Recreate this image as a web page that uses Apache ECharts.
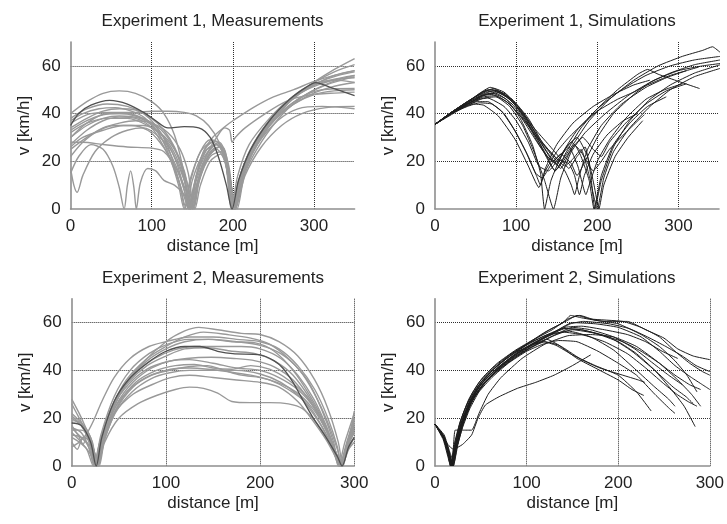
<!DOCTYPE html>
<html>
<head>
<meta charset="utf-8">
<script src="https://cdn.jsdelivr.net/npm/echarts@6/dist/echarts.min.js"></script>
<style>
  html, body { margin: 0; padding: 0; background: #fff; }
  #chart { width: 727px; height: 524px; }
</style>
</head>
<body>
<div id="chart"></div>
<script>
// Panel titles and axis settings
const panelTitles = [
  'Experiment 1, Measurements',
  'Experiment 1, Simulations',
  'Experiment 2, Measurements',
  'Experiment 2, Simulations'
];
const xAxisName = 'distance [m]';
const yAxisName = 'v [km/h]';
const xMaxima = [350, 350, 300, 300];
const yMaximum = 70;
const xTickStep = 100;
const yTickStep = 20;

// Experiment 1: measured speed profiles, [distance m, speed km/h]
const exp1Measured = [
  [[0,40],[20,45],[40,48.5],[60,49.5],[80,48.5],[100,45],[115,40],[128,31],[138,18],[145,5],[148,0],[155,14],[165,25],[178,28.5],[190,22],[198,0],[206,14],[220,27],[245,38],[270,46],[300,52],[325,56],[350,58]],
  [[0,38],[20,42],[45,44],[70,43],[90,40],[105,35],[120,26],[133,12],[143,0],[150,12],[165,24],[180,27],[192,18],[200,0],[210,15],[225,27],[250,39],[275,47],[300,53],[325,57.5],[350,60.5]],
  [[0,33],[20,37],[40,39.5],[60,40],[80,39],[100,36],[115,30],[130,20],[140,8],[145,0],[152,10],[165,22],[180,27],[192,20],[201,0],[212,17],[230,30],[255,41],[280,48],[305,53],[330,56],[350,57.5]],
  [[0,30],[20,35],[40,38],[60,39],[85,38],[100,35],[115,28],[130,18],[145,5],[150,0],[157,10],[170,22],[183,26],[195,15],[203,0],[213,16],[230,29],[255,41],[280,48],[305,52],[330,54.5],[350,55]],
  [[0,27],[20,33],[40,37],[60,38.5],[80,38],[100,34],[115,26],[130,15],[140,5],[146,0],[155,14],[168,25],[180,27],[192,20],[199,0],[208,13],[225,26],[250,37],[275,44],[300,48],[325,49.5],[350,50]],
  [[0,36],[25,40],[50,40.5],[80,40.5],[100,41],[120,41],[140,40.5],[155,39],[170,35],[183,28],[192,18],[199,0],[207,12],[222,25],[245,36],[270,45],[295,51],[320,54],[350,56]],
  [[0,28],[15,28],[40,27],[70,26],[100,25.5],[115,24],[130,17],[140,8],[147,0],[155,12],[170,24],[183,28],[195,18],[202,0],[212,15],[230,27],[255,37],[280,42],[310,43],[350,42]],
  [[0,25],[20,30],[40,34],[60,36],[80,37],[100,36],[120,32],[135,25],[145,15],[152,0],[160,14],[175,25],[187,26],[197,12],[203,0],[215,14],[235,26],[260,35],[285,40],[315,42.5],[350,43]],
  [[0,17],[4,10],[8,7],[15,14],[30,24],[50,30],[70,33],[90,34],[110,30],[125,24],[140,12],[150,0],[158,12],[172,22],[185,24],[196,12],[202,0],[215,16],[235,30],[260,40],[290,47],[320,51],[350,53]],
  [[0,15],[10,22],[25,27],[40,25],[52,18],[60,9],[66,0],[70,10],[74,16],[78,9],[81,0],[86,11],[95,17],[105,16],[115,12],[128,10],[140,6],[148,0],[158,13],[172,24],[185,26],[196,14],[203,0],[214,16],[232,29],[258,40],[285,47],[315,52],[350,55.5]],
  [[0,30],[20,36],[45,40],[70,40],[95,37],[115,32],[130,24],[140,13],[146,0],[154,13],[164,24],[175,30],[190,34.5],[200,37],[225,42.5],[250,47],[275,50],[300,53.5],[325,56],[350,58]],
  [[0,32],[20,36],[45,38],[70,38],[95,35],[115,30],[130,22],[142,10],[148,0],[155,10],[168,23],[180,30],[190,34],[196,33],[199,28],[203,30],[215,34],[240,40],[265,45],[290,47.5],[320,48.5],[350,49]],
  [[0,22],[15,28],[35,33],[55,35],[75,35],[95,33],[110,28],[125,20],[135,10],[141,0],[148,12],[160,24],[175,28],[188,24],[196,8],[200,0],[208,10],[222,22],[245,35],[270,45],[295,52],[320,57.5],[350,63]],
  [[0,26],[15,30],[40,33],[65,35],[90,35],[110,32],[128,25],[140,15],[150,3],[153,0],[160,10],[172,20],[185,23],[195,14],[205,0],[215,15],[235,28],[262,40],[290,48],[320,53],[350,56]],
  [[0,37],[15,40],[35,42],[55,42.5],[75,41],[92,38],[108,32],[122,22],[133,10],[140,0],[147,12],[160,24],[172,29],[185,27],[195,16],[201,0],[210,14],[226,27],[250,39],[275,47.5],[300,52.5],[325,54],[350,53]],
  [[0,34],[20,38],[40,41],[60,42],[80,41.5],[100,38],[115,33],[128,26],[140,16],[147,5],[151,0],[158,12],[170,22],[180,25],[190,20],[199,3],[202,0],[211,16],[228,28],[252,38],[280,46],[310,50],[350,50.5]]
];
// Experiment 1: the single highlighted measured run
const exp1MeasuredDark = [
  [[0,35],[10,40],[25,43.5],[48,45.5],[70,44],[90,40.5],[105,37],[120,34],[140,34.5],[158,34],[172,30],[182,22],[192,10],[199,0],[207,12],[222,25],[245,37],[270,46],[290,51],[302,53],[320,51],[350,47.5]]
];

// Experiment 1: simulated speed profiles
const exp1Simulated = [
  [[0,35.5],[20,40],[40,44.5],[55,48.5],[68,51],[85,49],[100,44],[115,37],[130,28],[145,20],[152,18],[162,24],[180,34],[200,42],[225,50],[250,56.5],[262,58.5],[275,56.5],[300,53.5],[326,50.5]],
  [[0,35.5],[20,40.5],[40,45],[60,49],[72,50.5],[90,47],[105,41],[120,33],[135,24],[148,16],[160,22],[172,28],[190,37],[215,46],[245,54],[275,60],[305,64],[330,66.5],[342,68],[352,65.5]],
  [[0,35.5],[20,40],[40,44],[60,47.5],[70,48.5],[88,46],[105,38],[120,27],[130,15],[135,0],[143,12],[158,24],[175,33],[200,42],[230,50],[260,56],[290,60],[320,62.5],[352,64]],
  [[0,35.5],[20,40],[40,43.5],[60,46.5],[75,47],[92,43],[108,35],[122,24],[135,12],[146,0],[155,13],[168,24],[185,32],[210,40],[240,48],[270,54],[300,58],[330,60],[352,61]],
  [[0,35.5],[20,40.5],[40,44.5],[58,48],[72,49.5],[90,46.5],[108,40],[125,31],[140,23],[155,17],[165,23],[172,27],[180,22],[190,12],[196,0],[205,14],[220,27],[240,36],[262,43],[285,47]],
  [[0,35.5],[20,40],[40,44],[55,46],[65,46.5],[85,43],[100,37],[115,28],[128,18],[140,16],[152,21],[165,26],[176,18],[186,6],[190,10],[200,20],[215,29],[235,38],[260,46],[283,50],[305,52.5]],
  [[0,35.5],[20,39.5],[35,42.5],[47,44],[60,43.5],[78,39],[99,29],[115,18],[128,9],[136,16],[150,24],[165,30],[180,35],[200,41],[225,46],[245,49],[262,52],[290,56],[310,58]],
  [[0,35.5],[20,40],[40,44.5],[60,48],[75,48.5],[95,44],[115,35],[130,26],[145,20],[158,24],[168,28],[180,24],[195,16],[205,20],[215,25],[235,32],[250,37],[258,39.5]],
  [[0,35.5],[20,40.5],[45,46],[65,50],[78,49.5],[95,45.5],[112,38],[130,29],[150,21],[165,19],[172,14],[178,6],[184,14],[195,23],[212,31],[232,37],[250,40]],
  [[0,35.5],[20,40],[40,44],[60,47],[75,47.5],[92,44],[110,37],[128,29],[145,23],[160,18],[170,21],[180,25],[190,14],[200,0],[208,13],[220,24],[240,34],[265,43],[290,50],[320,55.5],[352,59]],
  [[0,35.5],[20,40.5],[40,45],[58,49],[70,50],[88,48],[105,42],[122,34],[140,27],[155,21],[165,17],[175,22],[185,26],[192,14],[197,0],[205,12],[220,26],[240,37],[265,46],[290,52],[320,57],[352,60.5]],
  [[0,35.5],[20,40],[40,43],[55,44.5],[70,44],[85,40],[100,32],[115,22],[125,14],[130,10],[136,17],[150,27],[170,36],[195,43],[220,48],[245,52],[265,54]],
  [[0,35.5],[20,40],[40,44],[62,48],[76,49],[95,46],[115,38],[132,28],[145,22],[160,16],[168,10],[172,6],[178,14],[188,25],[205,35],[230,44],[260,51],[285,55],[310,58],[325,59.5]],
  [[0,35.5],[20,40.5],[42,45.5],[62,49],[75,49.5],[95,45],[112,37],[128,28],[140,20],[148,16],[158,20],[170,26],[182,30],[195,25],[205,22],[215,28],[235,36],[260,44],[285,49.5],[310,52.5]],
  [[0,35.5],[20,40],[40,44],[58,47.5],[70,48],[88,45],[105,39],[122,30],[138,22],[150,19],[162,26],[175,30],[188,22],[196,10],[202,0],[208,10],[222,22],[238,30],[256,37]],
  [[0,35.5],[20,40],[40,43.5],[52,45],[65,45],[82,41],[98,33],[112,24],[124,15],[132,13],[142,18],[155,23],[168,19],[175,14],[185,20],[200,30],[220,40],[245,48],[265,53],[290,57],[320,60.5],[352,62.5]]
];

// Experiment 2: measured speed profiles
const exp2Measured = [
  [[0,20],[12,16],[20,8],[25,0],[30,8],[40,20],[55,33],[75,43],[100,52],[120,56.5],[135,58],[155,57],[180,55.5],[200,55],[220,52],[240,46],[258,36],[272,24],[283,10],[288,0],[293,8],[300,18]],
  [[0,16],[10,14],[18,8],[24,0],[30,10],[42,24],[58,36],[80,45],[100,50],[120,54],[140,56],[165,55],[190,53.5],[210,51],[230,45],[250,36],[265,24],[278,10],[284,0],[292,10],[300,20]],
  [[0,28],[8,22],[15,16],[22,10],[27,0],[33,10],[45,25],[60,36],[80,44],[100,49],[120,52],[145,53],[170,52],[195,51.5],[215,48],[235,40],[252,30],[266,20],[278,8],[283,0],[290,10],[300,22]],
  [[0,22],[10,18],[18,11],[25,0],[31,12],[44,26],[60,35],[80,42],[100,46],[120,49],[145,49.5],[170,48],[195,47],[215,44],[235,38],[255,27],[270,16],[281,5],[285,0],[293,10],[300,16]],
  [[0,17],[8,12],[12,9],[17,14],[23,5],[27,0],[34,12],[48,26],[65,35],[85,41],[105,44],[125,44.5],[150,43],[175,41],[200,40],[220,37],[240,32],[258,24],[272,14],[283,3],[286,0],[294,9],[300,14]],
  [[0,14],[10,10],[20,5],[27,0],[35,10],[50,20],[70,26],[90,29.5],[110,32],[125,33],[140,32.5],[155,30.5],[170,27],[190,26.5],[210,26.5],[230,26],[245,24],[260,18],[272,11],[282,3],[286,0],[294,7],[300,12]],
  [[0,12],[8,10],[16,7],[23,0],[30,10],[45,22],[65,30],[85,34],[105,37],[125,38],[150,37],[175,36],[200,35],[220,33],[240,27],[256,19],[270,11],[281,3],[284,0],[292,6],[300,10]],
  [[0,19],[10,18],[20,12],[28,0],[35,12],[50,26],[68,35],[90,40],[110,42],[130,42.5],[150,41],[170,40.5],[190,42],[210,40.5],[230,36],[250,29],[265,19],[278,8],[285,0],[292,8],[300,15]],
  [[0,8],[8,10],[15,13],[22,18],[32,27],[45,37],[62,45],[82,50],[100,52],[125,54],[150,54],[175,53],[200,52],[220,49],[240,42],[258,32],[272,20],[282,8],[286,0],[293,9],[300,17]],
  [[0,15],[10,15],[18,13],[24,6],[28,0],[34,10],[48,24],[65,33],[85,38],[105,40.5],[125,41],[145,40.5],[165,39.5],[190,38],[210,36],[230,32],[250,26],[265,17],[278,6],[284,0],[292,9],[300,20]],
  [[0,26],[8,20],[16,14],[24,6],[29,0],[36,14],[50,29],[68,39],[88,45],[108,48.5],[130,50],[155,50],[180,50],[200,49],[222,45],[240,38],[257,28],[270,17],[281,5],[286,0],[293,10],[300,19]],
  [[0,10],[6,7],[12,12],[20,10],[26,0],[32,8],[46,22],[64,31],[84,36.5],[104,39],[125,40],[150,40],[175,40],[200,38.5],[222,35],[242,29],[258,21],[272,12],[282,2],[285,0],[292,7],[300,12]],
  [[0,21],[10,17],[19,10],[25,0],[31,11],[44,25],[60,34],[80,40.5],[100,43.5],[122,45],[148,45.5],[172,45],[195,44],[215,41.5],[235,36],[253,27],[268,17],[280,6],[286,0],[294,11],[300,23]],
  [[0,13],[10,12],[18,8],[24,0],[31,13],[45,29],[62,40],[82,47],[102,51],[124,53],[150,53],[175,52],[200,50.5],[222,47],[242,40],[258,30],[271,19],[282,7],[287,0],[294,10],[300,16]],
  [[0,16],[10,12],[20,8],[26,0],[33,11],[47,25],[64,33],[84,38],[104,40],[124,41.5],[144,42],[162,40],[180,38],[200,37],[218,35],[238,31],[256,24],[270,15],[281,5],[285,0],[292,8],[300,14]]
];
// Experiment 2: the single highlighted measured run
const exp2MeasuredDark = [
  [[0,18],[10,17],[20,10],[26,0],[32,12],[45,27],[60,36],[80,43],[100,48],[120,50],[136,50],[155,48],[171,47],[200,46.5],[215,44],[224,41],[235,35],[242,30],[255,21],[270,12],[282,4],[287,0],[294,8],[300,12]]
];

// Experiment 2: simulated speed profiles
const exp2Simulated = [
  [[0,17.5],[8,13],[14,8],[18,0],[22,8],[28,17],[36,25],[46,32],[60,39],[80,46],[100,51],[120,56],[140,60],[148,63],[160,62],[185,60.5],[210,60.5],[230,57],[250,53.5],[265,49],[282,46],[300,44.5]],
  [[0,17.5],[10,12],[16,5],[19,0],[24,10],[30,19],[38,27],[50,35],[65,41],[85,47],[105,52],[125,57],[145,61],[155,63],[170,61.5],[205,60.5],[225,58],[245,54],[262,48],[278,43],[292,39.5],[300,38]],
  [[0,17.5],[10,11],[15,4],[18,0],[23,9],[30,18],[40,27],[52,34],[68,40],[88,46],[108,51],[128,55.5],[150,60],[175,59.5],[200,58],[225,54],[245,48],[262,42],[280,37],[292,34],[300,32]],
  [[0,17.5],[9,12],[15,6],[19,0],[23,7],[29,16],[37,25],[48,33],[62,39],[82,45],[102,50],[122,54.5],[142,58],[160,58.5],[185,57],[210,55],[230,52],[248,48],[265,45]],
  [[0,17.5],[10,12],[16,4],[20,0],[24,8],[30,17],[39,26],[50,33],[66,39],[86,45],[106,50],[126,54],[150,57],[175,55.5],[200,52],[220,47],[240,40],[258,32],[272,25],[284,16.5]],
  [[0,17.5],[8,13],[13,7],[17,0],[21,9],[27,18],[35,26],[46,33],[60,39],[80,45.5],[100,50.5],[120,54.5],[140,57.5],[160,57],[190,54],[215,48],[240,40],[260,33],[274,29],[282,26]],
  [[0,17.5],[10,11],[16,3],[19,0],[24,10],[31,20],[40,28],[52,35],[68,41],[88,47],[108,51.5],[128,55],[145,56.5],[170,54],[195,48.5],[220,40],[240,33],[255,28],[262,25]],
  [[0,17.5],[9,12],[14,5],[17,0],[22,10],[28,19],[37,28],[48,35],[63,41],[83,47],[103,51.5],[123,55],[140,56],[160,55],[185,52],[210,47],[230,41],[248,35],[264,30],[276,27],[286,25]],
  [[0,17.5],[8,13],[14,9],[20,7],[30,9],[40,13],[47,20],[55,25.5],[70,29],[90,32.5],[110,35],[130,38],[150,42],[170,46.5]],
  [[0,17.5],[10,13],[16,6],[19,3],[22,15],[30,15],[40,15],[48,22],[58,30],[72,37],[95,45],[120,51],[145,54.5],[170,55],[195,54],[220,50],[245,43],[265,36],[280,30],[290,25]],
  [[0,17.5],[9,12],[15,5],[18,0],[23,10],[30,20],[40,29],[52,36],[68,42],[88,47.5],[105,50.5],[118,52],[132,50.5],[150,46.5],[175,42],[200,38],[220,31],[236,23]],
  [[0,17.5],[10,12],[16,4],[19,0],[24,9],[31,19],[41,28],[54,35],[70,41],[90,47],[108,51],[122,53],[140,49.5],[160,44.5],[180,41],[205,38],[222,36],[229,35]],
  [[0,17.5],[9,11],[14,4],[17,0],[22,8],[29,18],[38,27],[50,34],[66,40],[86,45.5],[104,49.5],[120,52],[135,50.5],[155,45],[175,41],[200,36],[215,32],[228,29.5]],
  [[0,17.5],[10,12],[15,5],[18,0],[23,11],[30,21],[40,30],[52,37],[68,43],[88,48.5],[108,53],[128,57],[145,61.5],[158,63],[175,61],[200,59.5],[225,55],[245,50],[262,44],[275,38],[286,31]],
  [[0,17.5],[9,13],[15,6],[18,0],[22,7],[28,16],[36,24],[47,31],[62,38],[82,45],[102,50],[122,54],[142,57.5],[160,57],[180,55],[205,52],[225,48],[245,43],[262,38],[278,34],[290,32]],
  [[0,17.5],[10,12],[16,5],[20,0],[25,9],[32,19],[42,28],[55,35],[72,41],[92,46.5],[112,51],[132,55],[150,58],[170,57],[195,54],[218,49],[238,43],[255,38],[270,34]],
  [[0,17.5],[9,12],[14,6],[18,0],[23,9],[30,19],[40,28],[52,35],[68,41],[90,47.5],[110,52],[130,56],[148,59.5],[162,60.5],[190,59.5],[212,57.5],[232,54],[252,50],[270,46],[285,42],[300,39.5]],
  [[0,17.5],[10,11],[16,4],[19,0],[24,8],[30,16],[38,24],[48,31],[62,37],[80,43],[100,48],[118,51],[135,52.5],[155,52],[178,48],[200,43],[220,38],[240,30],[256,24],[262,22]]
];

// Plot-area placement of the four panels (pixels)
const panelBoxes = [
  { left: 70.6, top: 42, width: 284, height: 167 },
  { left: 435, top: 42, width: 284, height: 167 },
  { left: 71.7, top: 298.7, width: 282.6, height: 167.3 },
  { left: 435, top: 298.7, width: 283.3, height: 167.3 }
];

const FONT = '"Liberation Sans", Arial, Helvetica, sans-serif';
const TEXT = '#222';
const MEAS_GRAY = '#999999';
const MEAS_DARK = '#505050';
const SIM_BLACK = '#1e1e1e';

const chart = echarts.init(document.getElementById('chart'), null, { renderer: 'canvas' });

const gridDotted = { color: '#2e2e2e', width: 1, type: [1, 1] };
const axisLineStyle = { color: '#8e8e8e', width: 1.6 };

const titles = panelTitles.map((t, i) => ({
  text: t,
  left: panelBoxes[i].left + panelBoxes[i].width / 2,
  top: i < 2 ? 13 : 270,
  textAlign: 'center',
  padding: 0,
  textStyle: { fontFamily: FONT, fontSize: 17, fontWeight: 'normal', color: TEXT }
}));

const grids = panelBoxes.map(b => ({ left: b.left, top: b.top, width: b.width, height: b.height, containLabel: false }));

const xAxes = xMaxima.map((mx, i) => ({
  type: 'value', gridIndex: i, min: 0, max: mx, interval: xTickStep,
  name: xAxisName, nameLocation: 'middle', nameGap: 29,
  nameTextStyle: { fontFamily: FONT, fontSize: 17, color: TEXT },
  axisLine: { show: true, onZero: false, lineStyle: axisLineStyle },
  axisTick: { show: false },
  axisLabel: { fontFamily: FONT, fontSize: 17, color: TEXT, margin: 9, showMaxLabel: mx % xTickStep === 0 },
  splitLine: { show: true, showMinLine: false, showMaxLine: mx % xTickStep === 0, lineStyle: gridDotted }
}));

const yAxes = xMaxima.map((mx, i) => ({
  type: 'value', gridIndex: i, min: 0, max: yMaximum, interval: yTickStep,
  name: yAxisName, nameLocation: 'middle', nameGap: 38, nameRotate: 90,
  nameTextStyle: { fontFamily: FONT, fontSize: 17, color: TEXT },
  axisLine: { show: true, onZero: false, lineStyle: axisLineStyle },
  axisTick: { show: false },
  axisLabel: { fontFamily: FONT, fontSize: 17, color: TEXT, margin: 10, showMaxLabel: false },
  splitLine: { show: true, showMinLine: false, showMaxLine: false, lineStyle: gridDotted }
}));

function curves(list, panel, color, width, smooth, z) {
  return list.map(pts => ({
    type: 'line', xAxisIndex: panel, yAxisIndex: panel,
    data: pts, symbol: 'none', showSymbol: false,
    smooth: smooth, silent: true, animation: false, z: z,
    lineStyle: { color: color, width: width }
  }));
}

const series = [].concat(
  curves(exp1Measured, 0, MEAS_GRAY, 1.4, 0.3, 2),
  curves(exp1MeasuredDark, 0, MEAS_DARK, 1.3, 0.3, 3),
  curves(exp1Simulated, 1, SIM_BLACK, 1, 0.15, 2),
  curves(exp2Measured, 2, MEAS_GRAY, 1.4, 0.3, 2),
  curves(exp2MeasuredDark, 2, MEAS_DARK, 1.3, 0.3, 3),
  curves(exp2Simulated, 3, SIM_BLACK, 1, 0.15, 2)
);

chart.setOption({
  backgroundColor: '#fff',
  animation: false,
  title: titles,
  grid: grids,
  xAxis: xAxes,
  yAxis: yAxes,
  series: series
});
</script>
</body>
</html>
